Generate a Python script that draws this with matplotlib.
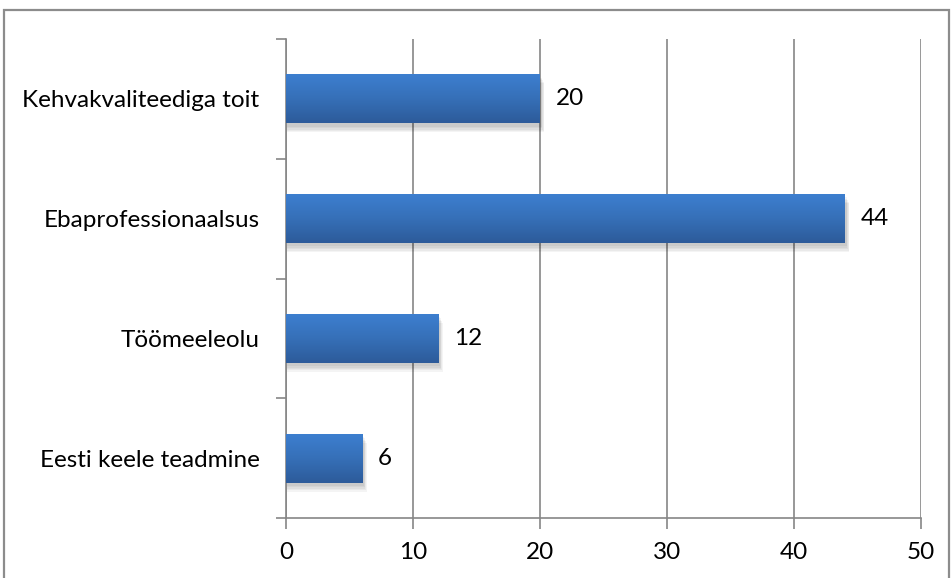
import matplotlib
matplotlib.use('Agg')
import matplotlib.pyplot as plt
import numpy as np
from matplotlib.patches import Rectangle
from matplotlib.colors import LinearSegmentedColormap

plt.rcParams['font.family'] = ['Lato', 'DejaVu Sans']

# andmed (ülevalt alla)
categories = ['Kehvakvaliteediga toit', 'Ebaprofessionaalsus', 'Töömeeleolu', 'Eesti keele teadmine']
values = [20, 44, 12, 6]
x_ticks = [0, 10, 20, 30, 40, 50]

GRID = '#868686'
FS = 17.5
bar_cmap = LinearSegmentedColormap.from_list('bar', ['#3d7fd0', '#3670b8', '#2d5b9a'])

fig = plt.figure(figsize=(9.52, 5.78), dpi=100)
ax = fig.add_axes([286 / 952, 60 / 578, 635 / 952, 479 / 578])

# välimine raam
fig.patches.append(Rectangle((3.5 / 952, -0.05), 945 / 952, 1.05 - 9.5 / 578,
                             transform=fig.transFigure, fill=False,
                             edgecolor='#8c8c8c', linewidth=1.6))

ypos = np.arange(len(categories))[::-1]
bar_h = 0.41
grad = np.linspace(0, 1, 64).reshape(-1, 1)

for y, v in zip(ypos, values):
    # pehme vari tulba all ja paremal
    for k in range(5):
        d = 0.012 * (5 - k)
        ax.add_patch(Rectangle((0.05, y - bar_h / 2 - 0.015 - d), v + 0.05 + d * 4, bar_h,
                               facecolor='black', edgecolor='none', alpha=0.045, zorder=2))
    # gradient tulp
    rect = Rectangle((0, y - bar_h / 2), v, bar_h, facecolor='none', edgecolor='none', zorder=3)
    ax.add_patch(rect)
    im = ax.imshow(grad, cmap=bar_cmap, aspect='auto', zorder=3, origin='upper',
                   extent=(0, v, y - bar_h / 2, y + bar_h / 2), interpolation='bicubic')
    im.set_clip_path(rect)
    ax.text(v + 1.25, y, str(v), va='center', ha='left', fontsize=FS, color='black', zorder=4)

ax.set_xlim(0, 50)
ax.set_ylim(-0.5, len(categories) - 0.5)
ax.set_xticks(x_ticks)
ax.set_xticklabels([str(t) for t in x_ticks], fontsize=FS)
ax.set_yticks(np.arange(-0.5, len(categories), 1.0))
ax.set_yticklabels([])
ax.set_yticks(ypos, minor=True)
ax.set_yticklabels(categories, minor=True, fontsize=FS)
ax.tick_params(axis='y', which='minor', length=0, pad=19)
ax.tick_params(axis='y', which='major', length=7, width=1.2, color=GRID, direction='out')
ax.tick_params(axis='x', length=8, width=1.2, color=GRID, direction='out', pad=9)

ax.grid(axis='x', color=GRID, linewidth=1.2, zorder=1)
ax.set_axisbelow(True)
for s in ['top', 'right']:
    ax.spines[s].set_visible(False)
for s in ['left', 'bottom']:
    ax.spines[s].set_color(GRID)
    ax.spines[s].set_linewidth(1.2)

fig.savefig('out.png', dpi=100, facecolor='white')
